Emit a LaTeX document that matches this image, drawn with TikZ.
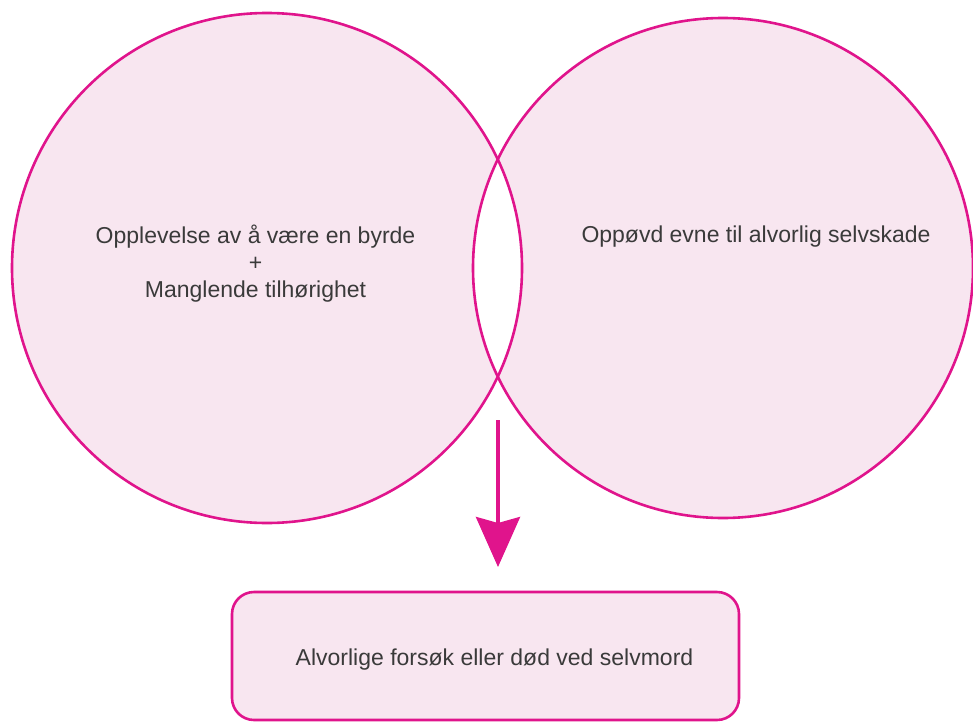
\documentclass[tikz,border=0pt]{standalone}
\usepackage{fontspec}
\setmainfont{Liberation Sans}
\usetikzlibrary{arrows.meta}
\definecolor{mag}{HTML}{E0148C}
\definecolor{pinkfill}{HTML}{F8E6F0}
\definecolor{txt}{HTML}{3A3A3A}
\tikzset{
  ring/.style={circle, draw=mag, line width=2.6pt, inner sep=0pt},
  label/.style={text=txt, font=\fontsize{23}{27}\selectfont, align=center, inner sep=0pt},
  resultbox/.style={draw=mag, fill=pinkfill, line width=2.6pt, rounded corners=22pt, minimum width=507pt, minimum height=128pt, inner sep=0pt},
  bigarrow/.style={draw=mag, line width=4pt, -{Stealth[length=50pt,width=44pt,inset=6pt]}}
}
\begin{document}
\begin{tikzpicture}[x=1pt,y=-1pt]
\useasboundingbox (0,0) rectangle (973,722);
\path[fill=pinkfill, even odd rule] (267,268) circle[radius=255] (723,268) circle[radius=250];
\node[ring, minimum size=510pt] (left) at (267,268) {};
\node[ring, minimum size=500pt] (right) at (723,268) {};
\node[label] (lt) at (255.5,264) {Opplevelse av å være en byrde\\+\\Manglende tilhørighet};
\node[label] (rt) at (756,237) {Oppøvd evne til alvorlig selvskade};
\node[resultbox] (box) at (485.5,656) {};
\node[label] (bt) at (494.5,660) {Alvorlige forsøk eller død ved selvmord};
\coordinate (as) at (498,420);
\coordinate (ae) at (498,567);
\draw[bigarrow] (as) -- (ae);
\end{tikzpicture}
\end{document}
